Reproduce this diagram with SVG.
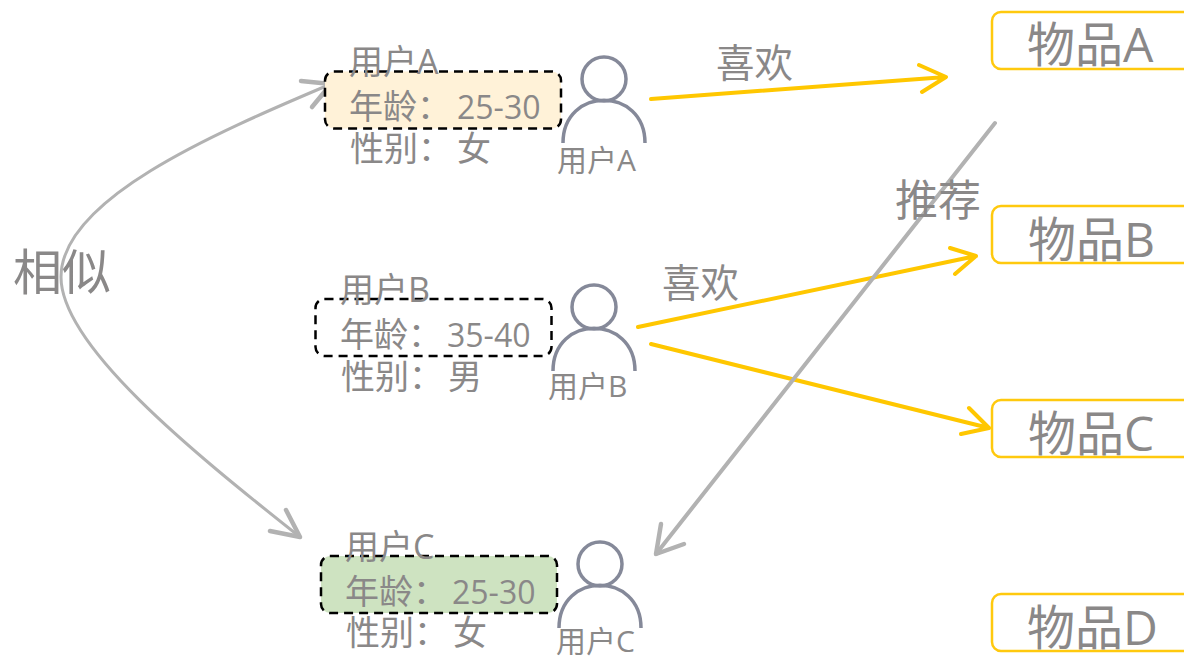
<svg xmlns="http://www.w3.org/2000/svg" width="1184" height="656" viewBox="0 0 1184 656">
<style>
text{font-family:"Open Sans","Noto Sans CJK SC",sans-serif;fill:#8a8888}
.t{font-size:34px}.n{font-size:32px}.u{font-size:30px}.v{font-size:38.500px}.r{font-size:43px}.w{font-size:48px}.x{font-size:49px}
.d{stroke:#000;stroke-width:2.500;stroke-dasharray:9 6}
.item{fill:#fff;stroke:#ffc90e;stroke-width:2.500}
.p{fill:none;stroke:#858999;stroke-width:3.500}
.y{fill:none;stroke:#ffc700;stroke-width:4;stroke-linecap:round;stroke-linejoin:round}
.g{fill:none;stroke:#b2b2b2;stroke-width:3;stroke-linecap:round}
.g2{fill:none;stroke:#b2b2b2;stroke-width:4.500;stroke-linecap:round;stroke-linejoin:round}
</style>
<rect width="1184" height="656" fill="#fff"/>
<g id="connectors">
<path class="y" d="M651 99L946 77M919 65L946 77L922 92"/>
<path class="y" d="M638 327L976 256M950 248L976 256L955 274"/>
<path class="y" d="M651 344L989 428M969 408L989 428L961 434"/>
<path class="g" d="M995 123L656 554" style="stroke-width:4"/>
<path class="g2" d="M661 524L656 554L684 544"/>
<path class="g" d="M331 84C210 135 61 200 61 277C61 345 190 450 300 537"/>
<path class="g2" d="M301 81L331 84L312 107"/>
<path class="g2" d="M270 531L300 537L286 510"/>
</g>
<g id="userA">
<rect class="d" x="325" y="71.500" width="236" height="57" rx="9" fill="#fff2d8"/>
<text class="t" x="349" y="74">用户A</text>
<text class="t" x="349" y="119">年龄：<tspan class="n" x="457">25-30</tspan></text>
<text class="t" x="350" y="161">性别：<tspan x="457">女</tspan></text>
<circle class="p" cx="604" cy="79" r="22"/><path class="p" d="M563 143C563 86 645 86 645 143"/>
<text class="u" x="557" y="171">用户A</text>
</g>
<g id="userB">
<rect class="d" x="315.500" y="299" width="236" height="57" rx="9" fill="#fff"/>
<text class="t" x="340" y="302">用户B</text>
<text class="t" x="340" y="347">年龄：<tspan class="n" x="447">35-40</tspan></text>
<text class="t" x="341" y="389">性别：<tspan x="448">男</tspan></text>
<circle class="p" cx="594" cy="307" r="22"/><path class="p" d="M553 371C553 314 635 314 635 371"/>
<text class="u" x="548" y="397">用户B</text>
</g>
<g id="userC">
<rect class="d" x="321" y="556" width="236" height="57" rx="9" fill="#cee3c1"/>
<text class="t" x="345" y="559">用户C</text>
<text class="t" x="345" y="604">年龄：<tspan class="n" x="452">25-30</tspan></text>
<text class="t" x="346" y="645">性别：<tspan x="453">女</tspan></text>
<circle class="p" cx="600" cy="564" r="22"/><path class="p" d="M559 628C559 571 641 571 641 628"/>
<text class="u" x="556" y="652">用户C</text>
</g>
<g id="itemA"><rect class="item" x="992" y="12" width="200" height="57" rx="9"/><text class="w" x="1027" y="62">物品A</text></g>
<g id="itemB"><rect class="item" x="992" y="206" width="200" height="57" rx="9"/><text class="w" x="1028" y="257">物品B</text></g>
<g id="itemC"><rect class="item" x="992" y="400" width="200" height="57" rx="9"/><text class="w" x="1028" y="451">物品C</text></g>
<g id="itemD"><rect class="item" x="992" y="594" width="200" height="57" rx="9"/><text class="w" x="1027" y="645">物品D</text></g>
<g id="labels">
<text class="v" x="716" y="77">喜欢</text>
<text class="v" x="662" y="297">喜欢</text>
<text class="r" x="895" y="216">推荐</text>
<text class="x" x="13" y="290">相似</text>
</g>
</svg>
